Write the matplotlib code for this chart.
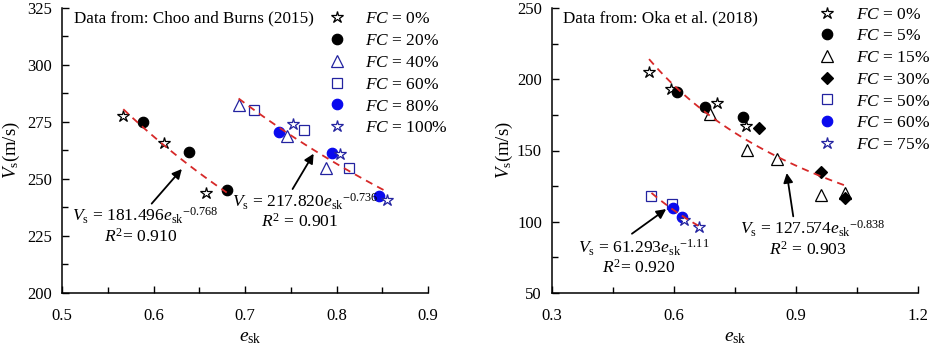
import numpy as np
import matplotlib
matplotlib.use("Agg")
import matplotlib.pyplot as plt
from matplotlib.ticker import MultipleLocator
from matplotlib.lines import Line2D

plt.rcParams['font.family'] = ['Liberation Serif', 'DejaVu Serif']
plt.rcParams['mathtext.fontset'] = 'custom'
plt.rcParams['mathtext.rm'] = 'Liberation Serif'
plt.rcParams['mathtext.it'] = 'Liberation Serif:italic'
plt.rcParams['mathtext.bf'] = 'Liberation Serif:bold'
plt.rcParams['font.size'] = 12

NAVY = '#2323a0'
BLUE = '#0a0aee'
RED = '#d62828'

# ---------------- Data: Choo and Burns (2015) ----------------
left_labels = ['0%', '20%', '40%', '60%', '80%', '100%']
left_e = [
    [0.567, 0.611, 0.657],
    [0.588, 0.639, 0.680],
    [0.693, 0.746, 0.788],
    [0.710, 0.765, 0.814],
    [0.737, 0.795, 0.846],
    [0.753, 0.804, 0.855],
]
left_vs = [
    [277.8, 265.8, 243.9],
    [275.1, 261.7, 245.0],
    [282.5, 268.7, 254.7],
    [280.1, 271.6, 255.0],
    [270.8, 261.4, 242.4],
    [274.0, 261.1, 240.6],
]
left_fit_a = [181.496, 217.820]
left_fit_b = [-0.768, -0.736]
left_fit_range = [(0.567, 0.680), (0.693, 0.855)]
left_r2 = ['0.910', '0.901']

# ---------------- Data: Oka et al. (2018) ----------------
right_labels = ['0%', '5%', '15%', '30%', '50%', '60%', '75%']
right_e = [
    [0.539, 0.594, 0.707, 0.777],
    [0.607, 0.677, 0.769],
    [0.689, 0.779, 0.854, 0.962, 1.021],
    [0.810, 0.962, 1.021],
    [0.545, 0.595],
    [0.599, 0.620],
    [0.625, 0.661],
]
right_vs = [
    [204.9, 193.2, 183.3, 167.0],
    [190.8, 180.5, 173.5],
    [175.8, 150.6, 144.0, 118.8, 120.2],
    [165.6, 135.1, 116.4],
    [118.3, 112.2],
    [109.9, 103.3],
    [101.0, 96.3],
]
right_fit_a = [127.574, 61.293]
right_fit_b = [-0.838, -1.11]
right_fit_range = [(0.539, 1.021), (0.545, 0.660)]
right_r2 = ['0.903', '0.920']

# marker styles
def st(marker, mfc, mec, ms):
    return dict(marker=marker, mfc=mfc, mec=mec, ms=ms, mew=0.9, linestyle='none')

left_styles = [
    st('*', 'white', 'black', 9),
    st('o', 'black', 'black', 7.5),
    st('^', 'white', NAVY, 8),
    st('s', 'white', NAVY, 6.5),
    st('o', BLUE, BLUE, 7.5),
    st('*', 'white', NAVY, 9),
]
right_styles = [
    st('*', 'white', 'black', 9),
    st('o', 'black', 'black', 7.5),
    st('^', 'white', 'black', 8),
    st('D', 'black', 'black', 6.5),
    st('s', 'white', NAVY, 6.5),
    st('o', BLUE, BLUE, 7.5),
    st('*', 'white', NAVY, 9),
]

ANN = 12.6
LEG = 12.5

fig = plt.figure(figsize=(9.41, 3.47), dpi=100)
axL = fig.add_axes([62/941, 54/347, 366/941, 285/347])
axR = fig.add_axes([551.7/941, 54/347, 366.6/941, 285/347])

def style_axes(ax, ylab_x, xlab_x):
    for s in ['top', 'right']:
        ax.spines[s].set_visible(False)
    for s in ['left', 'bottom']:
        ax.spines[s].set_linewidth(1.1)
    ax.tick_params(which='both', direction='in', width=1.0, labelsize=12)
    ax.tick_params(which='major', length=5)
    ax.tick_params(which='minor', length=4)
    ax.tick_params(axis='x', pad=11)
    ax.tick_params(axis='y', pad=7)
    ax.set_xlabel(r'$e_\mathrm{sk}$', fontsize=14)
    ax.set_ylabel(r'$V_\mathrm{s}$(m/s)', fontsize=13.5)
    ax.yaxis.set_label_coords(ylab_x, 0.5)
    ax.xaxis.set_label_coords(xlab_x, -0.125)

def draw(ax, es, vss, styles, labels, fa, fb, fr):
    handles = []
    for e, v, s, lab in zip(es, vss, styles, labels):
        ax.plot(e, v, zorder=3, **s)
        handles.append(Line2D([], [], **s))
    for a, b, (x0, x1) in zip(fa, fb, fr):
        xx = np.linspace(x0, x1, 60)
        ax.plot(xx, a * xx ** b, color=RED, lw=1.3, linestyle=(0, (4, 3)), zorder=4)
    return handles

def eq(a, b):
    return r'$V_\mathrm{s}$ = %.3f$e_\mathrm{sk}{}^{%s}$' % (a, b)

arrow = dict(arrowstyle='-|>', color='black', lw=1.3, mutation_scale=14, shrinkA=0, shrinkB=0)

# ---- left ----
hL = draw(axL, left_e, left_vs, left_styles, left_labels, left_fit_a, left_fit_b, left_fit_range)
axL.set_xlim(0.5, 0.9)
axL.set_ylim(200, 325)
axL.xaxis.set_major_locator(MultipleLocator(0.1))
axL.xaxis.set_minor_locator(MultipleLocator(0.05))
axL.yaxis.set_major_locator(MultipleLocator(25))
axL.yaxis.set_minor_locator(MultipleLocator(12.5))
style_axes(axL, -0.108, 0.514)
axL.text(0.5135, 320.6, 'Data from: Choo and Burns (2015)', va='center', ha='left', fontsize=12.3)
axL.legend(hL, [r'$FC$ = ' + l for l in left_labels], loc='upper left',
           bbox_to_anchor=(0.729, 0.99), frameon=False, borderpad=0, borderaxespad=0,
           handlelength=1.0, handletextpad=1.1, labelspacing=0.33, fontsize=LEG)

axL.annotate('', xy=(0.631, 254.4), xytext=(0.598, 239.2), arrowprops=arrow)
axL.annotate('', xy=(0.775, 261.1), xytext=(0.752, 245.6), arrowprops=arrow)
axL.text(0.511, 231.4, eq(left_fit_a[0], left_fit_b[0]), ha='left', va='baseline', fontsize=ANN)
axL.text(0.5855, 222.4, r'$R^2$= ' + left_r2[0], ha='center', va='baseline', fontsize=ANN)
axL.text(0.6855, 237.7, eq(left_fit_a[1], left_fit_b[1]), ha='left', va='baseline', fontsize=ANN)
axL.text(0.760, 228.9, r'$R^2$ = ' + left_r2[1], ha='center', va='baseline', fontsize=ANN)

# ---- right ----
hR = draw(axR, right_e, right_vs, right_styles, right_labels, right_fit_a, right_fit_b, right_fit_range)
axR.set_xlim(0.3, 1.2)
axR.set_ylim(50, 250)
axR.xaxis.set_major_locator(MultipleLocator(0.3))
axR.xaxis.set_minor_locator(MultipleLocator(0.15))
axR.yaxis.set_major_locator(MultipleLocator(50))
axR.yaxis.set_minor_locator(MultipleLocator(25))
style_axes(axR, -0.100, 0.5)
axR.text(0.3286, 243, 'Data from: Oka et al. (2018)', va='center', ha='left', fontsize=12.3)
axR.legend(hR, [r'$FC$ = ' + l for l in right_labels], loc='upper left',
           bbox_to_anchor=(0.728, 1.005), frameon=False, borderpad=0, borderaxespad=0,
           handlelength=1.0, handletextpad=1.15, labelspacing=0.32, fontsize=LEG)

axR.annotate('', xy=(0.581, 108.9), xytext=(0.497, 91.6), arrowprops=arrow)
axR.annotate('', xy=(0.877, 134.2), xytext=(0.893, 103.8), arrowprops=arrow)
axR.text(0.3655, 78.1, eq(right_fit_a[1], right_fit_b[1]), ha='left', va='baseline', fontsize=ANN)
axR.text(0.514, 64.0, r'$R^2$= ' + right_r2[1], ha='center', va='baseline', fontsize=ANN)
axR.text(0.762, 90.9, eq(right_fit_a[0], right_fit_b[0]), ha='left', va='baseline', fontsize=ANN)
axR.text(0.930, 76.9, r'$R^2$ = ' + right_r2[0], ha='center', va='baseline', fontsize=ANN)

fig.savefig('out.png', dpi=100)
